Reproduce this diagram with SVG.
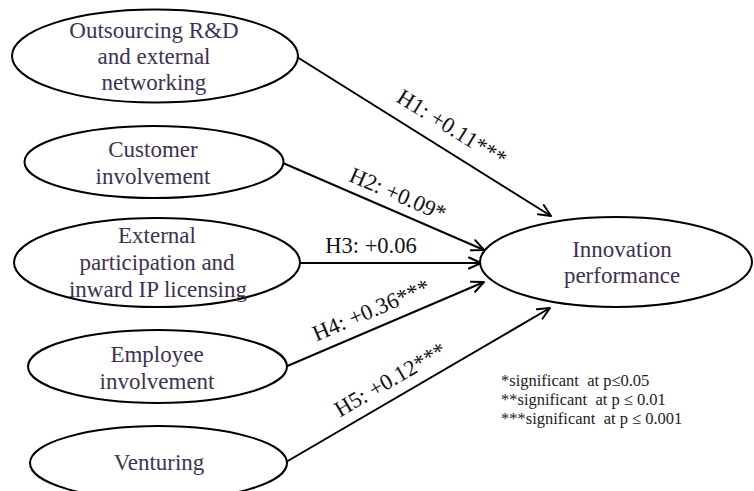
<svg xmlns="http://www.w3.org/2000/svg" width="754" height="491" viewBox="0 0 754 491">
<defs>
<style>
.node ellipse{fill:#fff;stroke:#000;stroke-width:2}
.node text{font-size:23px;fill:#3F3151;text-anchor:middle}
.edge line{stroke:#000;stroke-width:2;fill:none}
.lbl{font-size:22.5px;fill:#111;text-anchor:middle}
.legend{font-size:16.5px;fill:#222;white-space:pre}
</style>
<marker id="arr" viewBox="0 0 14 14" refX="13" refY="7" markerWidth="14" markerHeight="14" markerUnits="userSpaceOnUse" orient="auto">
<path d="M1,1.5 L13,7 L1,12.5" fill="none" stroke="#000" stroke-width="2" stroke-linejoin="round" stroke-linecap="round"/>
</marker>
</defs>
<rect width="754" height="491" fill="#fff"/>

<g id="connectors" class="edge">
<line x1="297" y1="57" x2="551" y2="216" marker-end="url(#arr)"/>
<line x1="283" y1="163" x2="484" y2="250" marker-end="url(#arr)"/>
<line x1="300" y1="263" x2="481" y2="263" marker-end="url(#arr)"/>
<line x1="285" y1="367" x2="484" y2="282" marker-end="url(#arr)"/>
<line x1="286" y1="462" x2="550" y2="308" marker-end="url(#arr)"/>
</g>

<g id="edge-labels" font-family="Liberation Serif, Times New Roman, serif">
<text class="lbl" x="448" y="134" transform="rotate(32.1 448 134)">H1: +0.11***</text>
<text class="lbl" x="395" y="201" transform="rotate(23.3 395 201)">H2: +0.09*</text>
<text class="lbl" x="371" y="253">H3: +0.06</text>
<text class="lbl" x="374" y="317" transform="rotate(-23.1 374 317)">H4: +0.36***</text>
<text class="lbl" x="394" y="386" transform="rotate(-30.2 394 386)">H5: +0.12***</text>
</g>

<g id="node-outsourcing" class="node" font-family="Liberation Serif, Times New Roman, serif">
<ellipse cx="155" cy="56" rx="143" ry="46.5"/>
<text x="154" y="38">Outsourcing R&amp;D</text>
<text x="154" y="64">and external</text>
<text x="154" y="90">networking</text>
</g>

<g id="node-customer" class="node" font-family="Liberation Serif, Times New Roman, serif">
<ellipse cx="154" cy="162" rx="129.5" ry="36"/>
<text x="153" y="157">Customer</text>
<text x="153" y="184">involvement</text>
</g>

<g id="node-external" class="node" font-family="Liberation Serif, Times New Roman, serif">
<ellipse cx="157" cy="262.5" rx="143" ry="44.5"/>
<text x="157" y="243">External</text>
<text x="157" y="270">participation and</text>
<text x="158" y="297">inward IP licensing</text>
</g>

<g id="node-employee" class="node" font-family="Liberation Serif, Times New Roman, serif">
<ellipse cx="157.5" cy="366.5" rx="129.5" ry="36.5"/>
<text x="157" y="362">Employee</text>
<text x="157" y="389">involvement</text>
</g>

<g id="node-venturing" class="node" font-family="Liberation Serif, Times New Roman, serif">
<ellipse cx="158.5" cy="463" rx="128.5" ry="37"/>
<text x="159" y="470">Venturing</text>
</g>

<g id="node-innovation" class="node" font-family="Liberation Serif, Times New Roman, serif">
<ellipse cx="616" cy="262" rx="136" ry="45"/>
<text x="622" y="257">Innovation</text>
<text x="622" y="283">performance</text>
</g>

<g id="legend" font-family="Liberation Serif, Times New Roman, serif">
<text class="legend" x="501" y="386">*significant  at p≤0.05</text>
<text class="legend" x="501" y="405">**significant  at p ≤ 0.01</text>
<text class="legend" x="501" y="424">***significant  at p ≤ 0.001</text>
</g>
</svg>
